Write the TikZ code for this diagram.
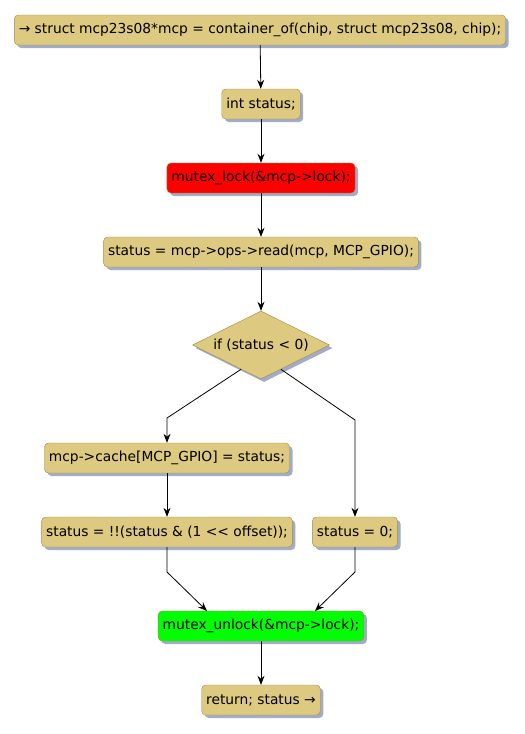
\documentclass[tikz,border=0pt]{standalone}
\usepackage{fontspec}
\setmainfont[Ligatures=ResetAll]{DejaVu Sans}
\usetikzlibrary{arrows.meta,calc,shapes.geometric,shadows}
\definecolor{caqui}{HTML}{DDC97F}
\definecolor{bordeCaqui}{HTML}{A08A47}
\definecolor{sombra}{HTML}{A0ACC8}
\definecolor{rojoLock}{HTML}{FF0000}
\definecolor{verdeUnlock}{HTML}{00FF00}

\begin{document}
\begin{tikzpicture}[x=1pt,y=-1pt,>=Stealth,
  paso/.style={draw=bordeCaqui,fill=caqui,rounded corners=4pt,minimum height=30pt,
    inner xsep=4.5pt,font=\fontsize{13.8}{16}\selectfont,
    drop shadow={shadow xshift=3pt,shadow yshift=-3pt,fill=sombra,opacity=1}},
  decision/.style={paso,diamond,rounded corners=0pt,aspect=2,inner sep=0pt,
    minimum width=137pt,minimum height=68pt},
  flecha/.style={->,line width=0.8pt,>={Stealth[length=9pt,width=7pt]}}]
  \useasboundingbox (0,0) rectangle (525,734);
  \node[paso] (inicio) at (260,30) {→ struct mcp23s08*mcp = container\_of(chip, struct mcp23s08, chip);};
  \node[paso] (decl) at (261,104) {int status;};
  \node[paso,fill=rojoLock] (lock) at (261,178) {mutex\_lock(\&mcp->lock);};
  \node[paso] (leer) at (261,252) {status = mcp->ops->read(mcp, MCP\_GPIO);};
  \node[decision] (cond) at (261,345) {if (status < 0)};
  \node[paso] (cache) at (167,458) {mcp->cache[MCP\_GPIO] = status;};
  \node[paso] (bits) at (167,532) {status = !!(status \& (1 <{}< offset));};
  \node[paso] (cero) at (355,532) {status = 0;};
  \node[paso,fill=verdeUnlock] (unlock) at (261,626) {mutex\_unlock(\&mcp->lock);};
  \node[paso] (fin) at (261,700) {return; status →};
  \coordinate (salIzq) at ($(cond.south)!0.29!(cond.west)$);
  \coordinate (salDer) at ($(cond.south)!0.29!(cond.east)$);
  \coordinate (codoIzq) at (167,418);
  \coordinate (codoDer) at (355,420);
  \coordinate (bajaIzq) at (167,572);
  \coordinate (bajaDer) at (355,572);
  \coordinate (llegaIzq) at (207,611);
  \coordinate (llegaDer) at (315,611);
  \draw[flecha] (inicio) -- (decl);
  \draw[flecha] (decl) -- (lock);
  \draw[flecha] (lock) -- (leer);
  \draw[flecha] (leer) -- (cond);
  \draw[flecha] (salIzq) -- (codoIzq) -- (cache);
  \draw[flecha] (salDer) -- (codoDer) -- (cero);
  \draw[flecha] (cache) -- (bits);
  \draw[flecha] (bits) -- (bajaIzq) -- (llegaIzq);
  \draw[flecha] (cero) -- (bajaDer) -- (llegaDer);
  \draw[flecha] (unlock) -- (fin);
\end{tikzpicture}
\end{document}
